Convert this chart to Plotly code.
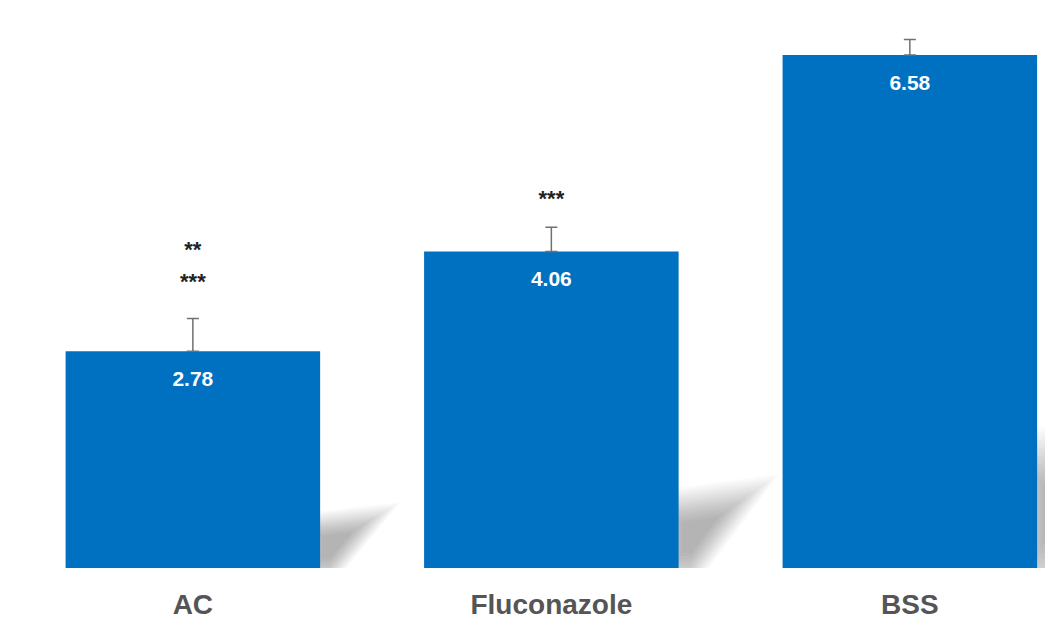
import numpy as np
import plotly.graph_objects as go

# Mean values per treatment group
categories = ["AC", "Fluconazole", "BSS"]
values = [2.78, 4.06, 6.58]
errors_up = [0.42, 0.31, 0.20]
value_labels = ["2.78", "4.06", "6.58"]

# Significance markers drawn above the bars
sig_x = ["AC", "AC", "Fluconazole"]
sig_y = [4.06, 3.65, 4.72]
sig_text = ["**", "***", "***"]

BAR_COLOR = "#0070C0"
LABEL_FONT = "Liberation Sans, Arial, sans-serif"
HALF_W = 0.355

fig = go.Figure()

# Soft cast shadows to the right of each bar: a wedge stacked at several
# scales with low opacity (kept below the traces) so the edges fade out
shapes = []
for i, v in enumerate(values):
    xr = i + HALF_W
    w = 0.16 if i == 0 else (0.20 if i == 1 else 0.30)
    h = 0.22 * v + 0.05 if i < 2 else 1.65
    base_x = np.array([xr - 0.03, xr - 0.03, xr + w, xr + 0.15 * w])
    base_y = np.array([-0.1, 0.85 * h, h, -0.1])
    cx, cy = xr + 0.2 * w, 0.45 * h
    for s in np.linspace(0.45, 1.5, 16):
        xs = cx + (base_x - cx) * s
        ys = cy + (base_y - cy) * s
        path = "M " + " L ".join(f"{x:.4f},{y:.4f}" for x, y in zip(xs, ys)) + " Z"
        shapes.append(dict(
            type="path", path=path, xref="x", yref="y", layer="below",
            fillcolor="rgba(0,0,0,0.018)", line=dict(width=0),
        ))

fig.add_trace(go.Bar(
    x=list(range(len(categories))), y=values,
    width=2 * HALF_W,
    marker=dict(color=BAR_COLOR, line=dict(width=0)),
    error_y=dict(type="data", symmetric=False, array=errors_up,
                 arrayminus=[0] * len(values), color="#707070",
                 thickness=1.5, width=6),
    showlegend=False, hoverinfo="skip",
))

# Value labels inside the top of each bar
fig.add_trace(go.Scatter(
    x=list(range(len(categories))), y=[v - 0.38 for v in values],
    mode="text", text=value_labels,
    textfont=dict(family=LABEL_FONT, size=21, color="white", weight="bold"),
    showlegend=False, hoverinfo="skip",
))

fig.add_trace(go.Scatter(
    x=[categories.index(c) for c in sig_x], y=sig_y,
    mode="text", text=sig_text,
    textfont=dict(family=LABEL_FONT, size=22, color="#222222", weight="bold"),
    showlegend=False, hoverinfo="skip",
))

fig.update_layout(
    width=1045, height=620,
    margin=dict(l=0, r=0, t=0, b=48),
    paper_bgcolor="white", plot_bgcolor="rgba(0,0,0,0)",
    shapes=shapes,
    xaxis=dict(
        range=[-0.538, 2.377],
        tickmode="array", tickvals=list(range(len(categories))), ticktext=categories,
        tickfont=dict(family=LABEL_FONT, size=28, color="#555555", weight="bold"),
        showgrid=False, zeroline=False, showline=False, ticks="",
        ticklabelstandoff=17,
    ),
    yaxis=dict(range=[0, 7.286], visible=False, showgrid=False, zeroline=False),
)

fig.write_html("out.html")
